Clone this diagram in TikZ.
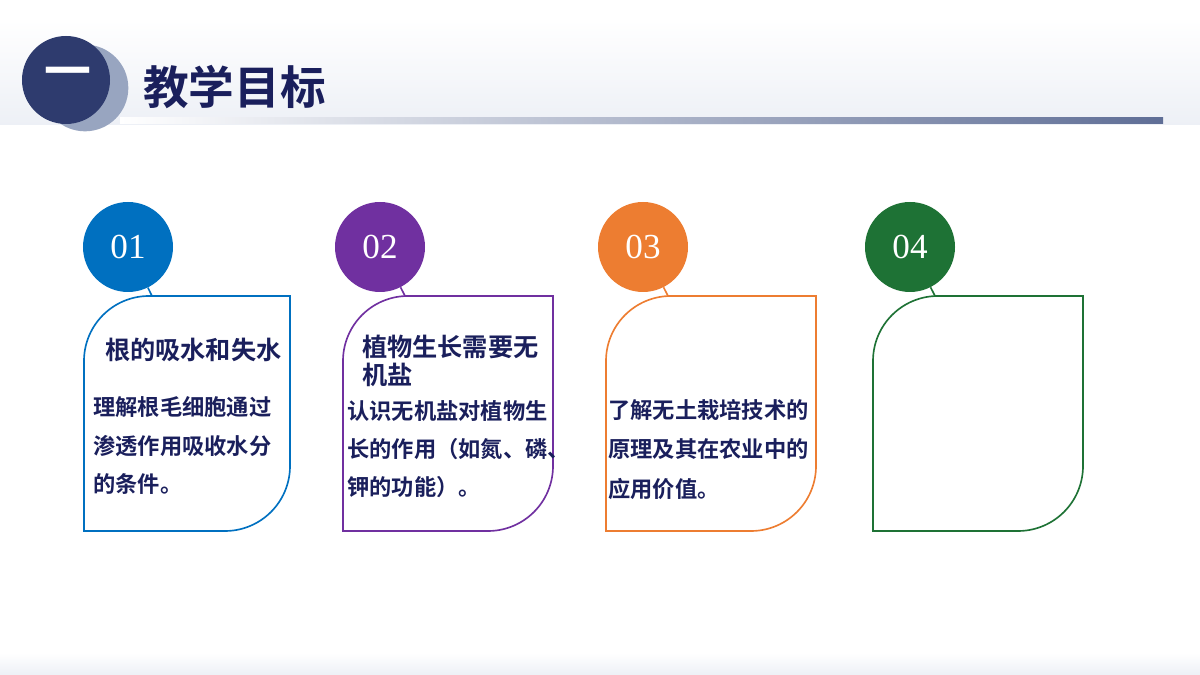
\documentclass[tikz,border=0pt]{standalone}
\usepackage{fontspec}
\setmainfont{Liberation Serif}
\newfontfamily\cjk{Noto Sans CJK SC Bold}
\definecolor{navy}{HTML}{2E3B6E}
\definecolor{shadowc}{HTML}{98A5C0}
\definecolor{txt}{HTML}{1A1F5C}
\definecolor{cblue}{HTML}{0070C0}
\definecolor{cpurple}{HTML}{7030A0}
\definecolor{corange}{HTML}{ED7D31}
\definecolor{cgreen}{HTML}{1E7235}
\definecolor{bandc}{HTML}{EDF0F6}
\definecolor{linec}{HTML}{5F6E96}
\tikzset{
  numdot/.style={circle, minimum size=2.7cm, inner sep=0pt, text=white, font=\fontsize{30}{30}\selectfont},
  cardtitle/.style={anchor=west, text=txt, font=\cjk\fontsize{21.5}{24}\selectfont, inner sep=0pt},
  cardtext/.style={anchor=west, text=txt, font=\cjk\fontsize{19}{22}\selectfont, inner sep=0pt},
}
% card with rounded top-left and bottom-right corners
\newcommand{\goalcard}[3]{%
  \draw[#3, line width=1.4pt] (#1,144) -- (#1,314) arc[start angle=180, end angle=90, radius=1.95cm]
    -- (#2,379) -- (#2,209) arc[start angle=0, end angle=-90, radius=1.95cm] -- cycle;}
\begin{document}
\begin{tikzpicture}[x=0.03cm, y=0.03cm]
  \useasboundingbox (0,0) rectangle (1200,675);
  % header
  \shade[top color=white, bottom color=bandc] (0,550) rectangle (1200,655);
  \shade[left color=white, right color=linec] (120,551) rectangle (1163,557);
  \fill[shadowc] (85,587) circle (1.3cm);
  \fill[navy] (66,595) circle (1.32cm);
  \node[text=white, font=\cjk\fontsize{40}{40}\selectfont] (one) at (68,597) {一};
  \node[anchor=west, text=txt, font=\cjk\fontsize{39}{42}\selectfont, inner sep=0pt] (title) at (143,588) {教学目标};
  \shade[top color=white, bottom color=bandc] (0,0) rectangle (1200,22);
  % cards
  \goalcard{84}{290}{cblue}
  \goalcard{343}{553}{cpurple}
  \goalcard{606}{816}{corange}
  \goalcard{873}{1083}{cgreen}
  \coordinate (c1) at (152,379);
  \coordinate (c2) at (405,379);
  \coordinate (c3) at (668,379);
  \coordinate (c4) at (935,379);
  \node[numdot, fill=cblue] (n1) at (128,428) {01};
  \node[numdot, fill=cpurple] (n2) at (380,428) {02};
  \node[numdot, fill=corange] (n3) at (643,428) {03};
  \node[numdot, fill=cgreen] (n4) at (910,428) {04};
  \draw[cblue, line width=1.4pt] (n1) -- (c1);
  \draw[cpurple, line width=1.4pt] (n2) -- (c2);
  \draw[corange, line width=1.4pt] (n3) -- (c3);
  \draw[cgreen, line width=1.4pt] (n4) -- (c4);
  % texts
  \node[cardtitle] (t1) at (105,325) {根的吸水和失水};
  \node[cardtitle] (t2a) at (362,328) {植物生长需要无};
  \node[cardtitle] (t2b) at (362,300) {机盐};
  \node[cardtext] (b1a) at (93,268) {理解根毛细胞通过};
  \node[cardtext] (b1b) at (93,229) {渗透作用吸收水分};
  \node[cardtext] (b1c) at (93,191) {的条件。};
  \node[cardtext] (b2a) at (347,264) {认识无机盐对植物生};
  \node[cardtext] (b2b) at (347,226) {长的作用（如氮、磷、};
  \node[cardtext] (b2c) at (347,188) {钾的功能）。};
  \node[cardtext] (b3a) at (608,265) {了解无土栽培技术的};
  \node[cardtext] (b3b) at (608,226) {原理及其在农业中的};
  \node[cardtext] (b3c) at (608,186) {应用价值。};
\end{tikzpicture}
\end{document}
